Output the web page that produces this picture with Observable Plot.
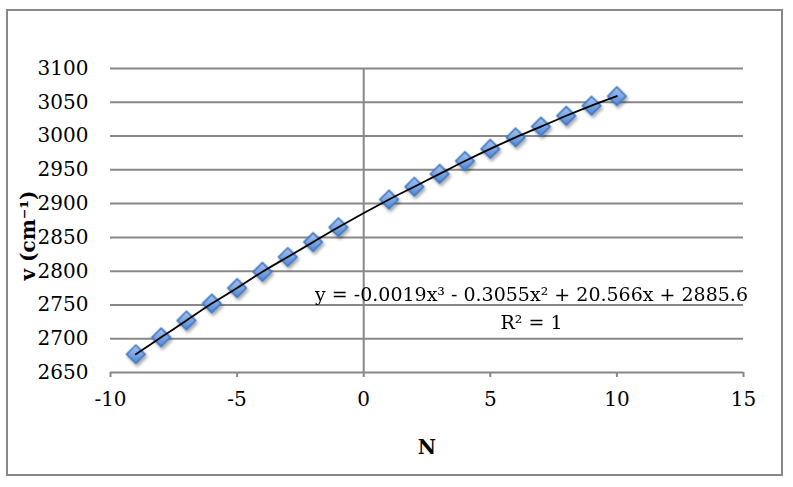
<!DOCTYPE html>
<html><head><meta charset="utf-8">
<script src="https://cdn.jsdelivr.net/npm/d3@7"></script>
<script src="https://cdn.jsdelivr.net/npm/@observablehq/plot@0.6"></script>
<style>
body{margin:0;background:#fff;}
#wrap{position:relative;width:793px;height:487px;overflow:hidden;}
#frame{position:absolute;left:6px;top:9px;width:773px;height:463px;border:2px solid #888;}
#chart{position:absolute;left:0;top:0;}
</style></head><body>
<div id="wrap"><div id="frame"></div><div id="chart"></div></div>
<script>
const N = [-9, -8, -7, -6, -5, -4, -3, -2, -1, 1, 2, 3, 4, 5, 6, 7, 8, 9, 10];
const nu = [2677, 2702, 2727, 2752, 2775, 2799, 2821, 2843, 2865, 2906, 2925, 2944, 2963, 2981, 2998, 3014, 3030, 3045, 3059];
const xTicks = [-10, -5, 0, 5, 10, 15];
const yTicks = [2650, 2700, 2750, 2800, 2850, 2900, 2950, 3000, 3050, 3100];
const eqText = "y = -0.0019x³ - 0.3055x² + 20.566x + 2885.6";
const r2Text = "R² = 1";
const xTitle = "N";
const yTitle = "v (cm⁻¹)";

const data = N.map((n, i) => ({N: n, nu: nu[i]}));
const serif = "'DejaVu Serif', 'Liberation Serif', serif";
const fmt = d => String(d);

const svg = Plot.plot({
  width: 793, height: 487,
  marginLeft: 110, marginRight: 50, marginTop: 68, marginBottom: 115,
  style: {fontFamily: serif, fontSize: "20px", color: "#000", background: "transparent"},
  x: {domain: [-10, 15], ticks: xTicks, label: null},
  y: {domain: [2650, 3100], ticks: yTicks, label: null},
  marks: [
    Plot.ruleY(yTicks, {stroke: "#888", strokeWidth: 2}),
    Plot.ruleX([0], {stroke: "#888", strokeWidth: 2}),
    Plot.axisX({ticks: xTicks, tickFormat: fmt, tickSize: 5, tickPadding: 14, stroke: "#888", strokeWidth: 2, fill: "#000", fontSize: 20, label: null}),
    Plot.axisY({ticks: yTicks, tickFormat: fmt, tickSize: 0, tickPadding: 22, fill: "#000", fontSize: 20, label: null}),
    Plot.dot(data, {x: "N", y: "nu", symbol: "diamond2", r: 8.3, fill: "#6fa0e0", stroke: "#3f74bf", strokeWidth: 1.6}),
    Plot.line(data, {x: "N", y: "nu", curve: "catmull-rom", stroke: "#000", strokeWidth: 1.8}),
    Plot.text([eqText], {frameAnchor: "top-left", dx: 421, dy: 226, text: d => d, textAnchor: "middle", lineAnchor: "middle", fontSize: 19, fill: "#000"}),
    Plot.text([r2Text], {frameAnchor: "top-left", dx: 421, dy: 254, text: d => d, textAnchor: "middle", lineAnchor: "middle", fontSize: 19, fill: "#000"}),
    Plot.text([xTitle], {frameAnchor: "bottom", dy: 75, text: d => d, lineAnchor: "middle", fontSize: 20, fontWeight: "bold", fill: "#000"}),
    Plot.text([yTitle], {frameAnchor: "left", dx: -82, dy: 15, rotate: -90, text: d => d, textAnchor: "middle", lineAnchor: "middle", fontSize: 20, fontWeight: "bold", fill: "#000"})
  ]
});

const s = d3.select(svg);
const defs = s.insert("defs", ":first-child");
const grad = defs.append("linearGradient").attr("id", "dg").attr("x1", 0).attr("y1", 0).attr("x2", 0).attr("y2", 1);
grad.append("stop").attr("offset", "0%").attr("stop-color", "#a8c8f2");
grad.append("stop").attr("offset", "100%").attr("stop-color", "#4f86d4");
const filt = defs.append("filter").attr("id", "sh").attr("x", "-50%").attr("y", "-50%").attr("width", "200%").attr("height", "200%");
filt.append("feDropShadow").attr("dx", 1.5).attr("dy", 2.5).attr("stdDeviation", 1.6).attr("flood-color", "#000").attr("flood-opacity", 0.35);
const dots = s.select('g[aria-label="dot"]');
dots.attr("filter", "url(#sh)");
dots.selectAll("path").attr("fill", "url(#dg)");
dots.attr("fill", "url(#dg)");

document.getElementById("chart").appendChild(svg);
</script>
</body></html>
